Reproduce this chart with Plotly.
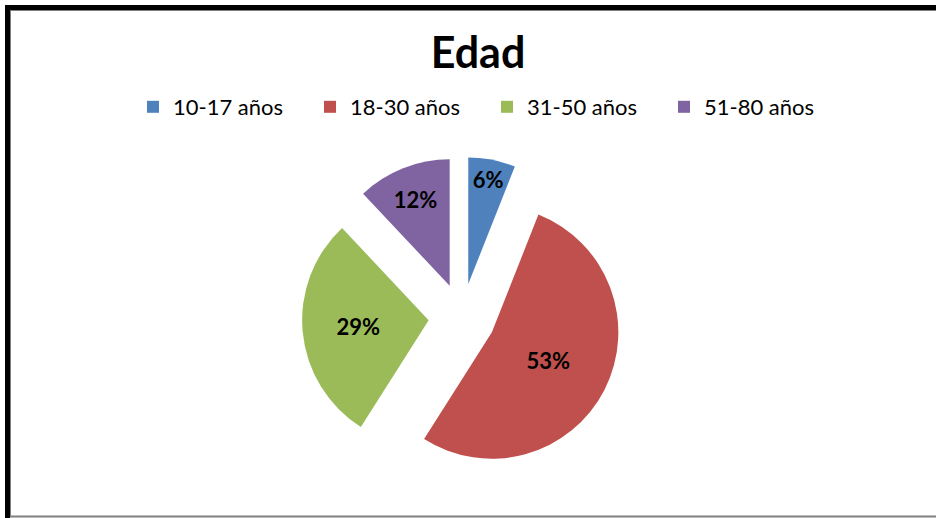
import plotly.graph_objects as go

categories = ["10-17 años", "18-30 años", "31-50 años", "51-80 años"]
values = [6, 53, 29, 12]
colors = ["#4F81BD", "#C0504D", "#9BBB59", "#8064A2"]
title_text = "Edad"

W, H = 936, 518
FONT = "Lato, 'Noto Sans', Arial, sans-serif"

def px_x(x):
    return x / W

def px_y(y):
    return 1 - y / H

fig = go.Figure()
fig.add_trace(go.Pie(
    labels=categories,
    values=values,
    sort=False,
    direction="clockwise",
    rotation=0,
    pull=[0.265] * len(values),
    marker=dict(colors=colors, line=dict(width=0)),
    textinfo="percent",
    texttemplate="%{percent:.0%}",
    textposition="inside",
    insidetextorientation="horizontal",
    textfont=dict(family=FONT, size=22, color="black", weight="bold"),
    domain=dict(x=[px_x(262), px_x(662)], y=[px_y(477), px_y(157)]),
    showlegend=True,
))

shapes = [
    dict(type="line", xref="paper", yref="paper", x0=px_x(10), y0=px_y(10.5), x1=1, y1=px_y(10.5),
         line=dict(color="#808080", width=1)),
    dict(type="line", xref="paper", yref="paper", x0=px_x(10.5), y0=px_y(10), x1=px_x(10.5), y1=px_y(516),
         line=dict(color="#808080", width=1)),
    dict(type="line", xref="paper", yref="paper", x0=px_x(10), y0=px_y(516.5), x1=1, y1=px_y(516.5),
         line=dict(color="#808080", width=2)),
    dict(type="line", xref="paper", yref="paper", x0=px_x(5), y0=px_y(7.5), x1=1, y1=px_y(7.5),
         line=dict(color="black", width=5)),
    dict(type="line", xref="paper", yref="paper", x0=px_x(7.5), y0=px_y(5), x1=px_x(7.5), y1=0,
         line=dict(color="black", width=5)),
]

fig.update_layout(
    width=W, height=H,
    margin=dict(l=0, r=0, t=0, b=0),
    paper_bgcolor="white",
    plot_bgcolor="white",
    title=dict(text=title_text, x=px_x(478), xanchor="center", xref="paper",
               y=px_y(53), yanchor="middle", yref="paper",
               font=dict(family=FONT, size=43, color="black", weight="bold")),
    legend=dict(orientation="h", x=px_x(487), xanchor="center", y=px_y(107), yanchor="middle",
                font=dict(family=FONT, size=22, color="black"),
                entrywidth=132, entrywidthmode="pixels", itemwidth=30,
                traceorder="normal", itemclick=False),
    uniformtext=dict(minsize=22, mode="show"),
    shapes=shapes,
)

fig.write_html(
    "out.html",
    config={"displayModeBar": False},
    post_script="document.body.style.margin='0';document.body.style.overflow='hidden';",
)
